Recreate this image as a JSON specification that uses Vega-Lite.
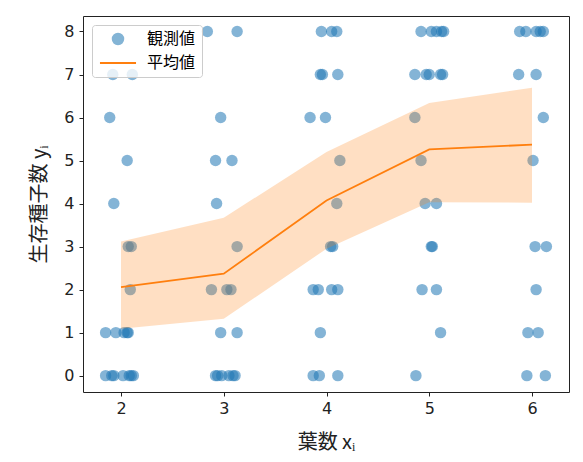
{
  "$schema": "https://vega.github.io/schema/vega-lite/v6.json",
  "description": "Observed seed counts vs leaf count with fitted mean and band.",
  "width": 486,
  "height": 376,
  "autosize": {"type": "none"},
  "padding": {"left": 83, "top": 16, "right": 14, "bottom": 70},
  "datasets": {
    "obs": [
      {"x": 2.84, "y": 8}, {"x": 3.13, "y": 8}, {"x": 3.95, "y": 8}, {"x": 4.05, "y": 8}, {"x": 4.10, "y": 8},
      {"x": 4.92, "y": 8}, {"x": 5.02, "y": 8}, {"x": 5.07, "y": 8}, {"x": 5.12, "y": 8}, {"x": 5.14, "y": 8},
      {"x": 5.88, "y": 8}, {"x": 5.94, "y": 8}, {"x": 6.04, "y": 8}, {"x": 6.08, "y": 8}, {"x": 6.11, "y": 8},
      {"x": 1.92, "y": 7}, {"x": 2.11, "y": 7}, {"x": 3.94, "y": 7}, {"x": 3.96, "y": 7}, {"x": 4.11, "y": 7},
      {"x": 4.86, "y": 7}, {"x": 4.97, "y": 7}, {"x": 5.00, "y": 7}, {"x": 5.11, "y": 7}, {"x": 5.13, "y": 7},
      {"x": 5.87, "y": 7}, {"x": 6.04, "y": 7},
      {"x": 1.89, "y": 6}, {"x": 2.97, "y": 6}, {"x": 3.84, "y": 6}, {"x": 3.99, "y": 6}, {"x": 4.86, "y": 6}, {"x": 6.11, "y": 6},
      {"x": 2.06, "y": 5}, {"x": 2.92, "y": 5}, {"x": 3.08, "y": 5}, {"x": 4.13, "y": 5}, {"x": 4.92, "y": 5}, {"x": 6.01, "y": 5},
      {"x": 1.93, "y": 4}, {"x": 2.93, "y": 4}, {"x": 4.10, "y": 4}, {"x": 4.96, "y": 4}, {"x": 5.07, "y": 4},
      {"x": 2.07, "y": 3}, {"x": 2.10, "y": 3}, {"x": 3.13, "y": 3}, {"x": 4.04, "y": 3}, {"x": 4.06, "y": 3},
      {"x": 5.02, "y": 3}, {"x": 5.03, "y": 3}, {"x": 6.03, "y": 3}, {"x": 6.14, "y": 3},
      {"x": 2.09, "y": 2}, {"x": 2.88, "y": 2}, {"x": 3.03, "y": 2}, {"x": 3.07, "y": 2}, {"x": 3.87, "y": 2},
      {"x": 3.92, "y": 2}, {"x": 4.05, "y": 2}, {"x": 4.11, "y": 2}, {"x": 4.93, "y": 2}, {"x": 5.07, "y": 2}, {"x": 6.04, "y": 2},
      {"x": 1.85, "y": 1}, {"x": 1.95, "y": 1}, {"x": 2.03, "y": 1}, {"x": 2.06, "y": 1}, {"x": 2.07, "y": 1},
      {"x": 2.97, "y": 1}, {"x": 3.13, "y": 1}, {"x": 3.94, "y": 1}, {"x": 5.11, "y": 1}, {"x": 5.96, "y": 1}, {"x": 6.06, "y": 1},
      {"x": 1.85, "y": 0}, {"x": 1.91, "y": 0}, {"x": 1.93, "y": 0}, {"x": 2.02, "y": 0}, {"x": 2.08, "y": 0},
      {"x": 2.10, "y": 0}, {"x": 2.12, "y": 0}, {"x": 2.92, "y": 0}, {"x": 2.94, "y": 0}, {"x": 2.98, "y": 0},
      {"x": 3.05, "y": 0}, {"x": 3.09, "y": 0}, {"x": 3.11, "y": 0}, {"x": 3.87, "y": 0}, {"x": 3.93, "y": 0},
      {"x": 4.11, "y": 0}, {"x": 4.87, "y": 0}, {"x": 5.95, "y": 0}, {"x": 6.13, "y": 0}
    ],
    "fit": [
      {"x": 2, "mean": 2.06, "lo": 1.09, "hi": 3.12},
      {"x": 3, "mean": 2.37, "lo": 1.32, "hi": 3.67},
      {"x": 4, "mean": 4.07, "lo": 2.95, "hi": 5.2},
      {"x": 5, "mean": 5.26, "lo": 4.03, "hi": 6.34},
      {"x": 6, "mean": 5.37, "lo": 4.02, "hi": 6.69}
    ]
  },
  "layer": [
    {
      "data": {"name": "obs"},
      "mark": {"type": "circle", "size": 130, "opacity": 0.55},
      "encoding": {
        "x": {"field": "x", "type": "quantitative"},
        "y": {"field": "y", "type": "quantitative"},
        "color": {"datum": "観測値"}
      }
    },
    {
      "data": {"name": "fit"},
      "mark": {"type": "area", "color": "#ff7f0e", "opacity": 0.25},
      "encoding": {
        "x": {"field": "x", "type": "quantitative"},
        "y": {"field": "lo", "type": "quantitative"},
        "y2": {"field": "hi"}
      }
    },
    {
      "data": {"name": "fit"},
      "mark": {"type": "line", "strokeWidth": 1.8},
      "encoding": {
        "x": {"field": "x", "type": "quantitative"},
        "y": {"field": "mean", "type": "quantitative"},
        "color": {"datum": "平均値"}
      }
    }
  ],
  "encoding": {
    "x": {
      "field": "x",
      "type": "quantitative",
      "scale": {"domain": [1.63, 6.36], "nice": false, "zero": false},
      "axis": {"values": [2, 3, 4, 5, 6], "title": "葉数 xᵢ", "titlePadding": 16}
    },
    "y": {
      "field": "y",
      "type": "quantitative",
      "scale": {"domain": [-0.38, 8.36], "nice": false, "zero": false},
      "axis": {"values": [0, 1, 2, 3, 4, 5, 6, 7, 8], "title": "生存種子数 yᵢ", "titlePadding": 14}
    },
    "color": {
      "type": "nominal",
      "scale": {"domain": ["観測値", "平均値"], "range": ["#1f77b4", "#ff7f0e"]},
      "legend": {
        "title": null,
        "orient": "top-left",
        "offset": 9,
        "strokeColor": "#cccccc",
        "fillColor": "rgba(255,255,255,0.8)",
        "padding": 6,
        "cornerRadius": 3,
        "labelFont": "Noto Sans CJK JP",
        "labelFontSize": 16,
        "labelColor": "#000000",
        "symbolOffset": 12,
        "labelOffset": 21,
        "rowPadding": 6,
        "symbolSize": 130,
        "encode": {
          "symbols": {
            "update": {
              "shape": {"signal": "datum.value === '平均値' ? 'stroke' : 'circle'"},
              "size": {"signal": "datum.value === '平均値' ? 1300 : 110"},
              "fill": {"signal": "datum.value === '平均値' ? 'transparent' : '#1f77b4'"},
              "stroke": {"signal": "datum.value === '平均値' ? '#ff7f0e' : 'transparent'"},
              "strokeWidth": {"value": 2},
              "opacity": {"signal": "datum.value === '平均値' ? 1 : 0.55"}
            }
          }
        }
      }
    }
  },
  "config": {
    "view": {"stroke": "#222222", "strokeWidth": 1},
    "axis": {
      "grid": false,
      "domain": false,
      "tickColor": "#222222",
      "tickSize": 4,
      "labelPadding": 4,
      "labelFont": "DejaVu Sans",
      "labelFontSize": 16,
      "labelColor": "#222222",
      "titleFont": "Noto Sans CJK JP",
      "titleFontSize": 20,
      "titleFontWeight": "normal",
      "titleColor": "#222222"
    },
    "axisY": {"labelPadding": 5}
  }
}
